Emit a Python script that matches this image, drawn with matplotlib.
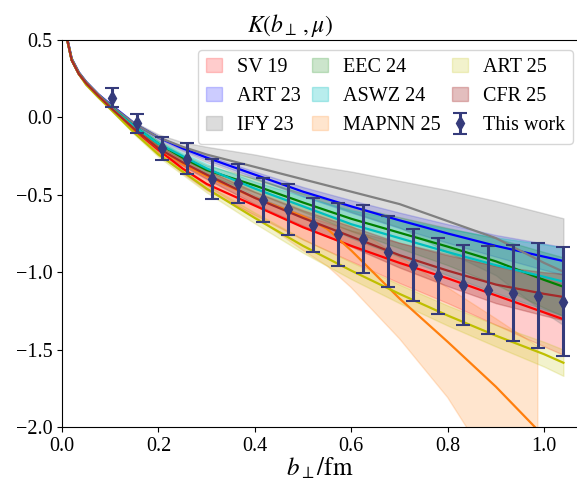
import matplotlib
matplotlib.use("Agg")
import matplotlib.pyplot as plt
import numpy as np

plt.rcParams['font.family'] = 'serif'
plt.rcParams['font.serif'] = ['Liberation Serif', 'DejaVu Serif']
plt.rcParams['mathtext.fontset'] = 'stix'

# b_perp grid (fm) on which the model curves were read
b_grid = [0.008, 0.02, 0.035, 0.05, 0.075, 0.1, 0.15, 0.2, 0.25, 0.3,
          0.4, 0.5, 0.6, 0.7, 0.8, 0.9, 1.0, 1.04]

sv19 = [0.54, 0.37, 0.28, 0.22, 0.14, 0.065, -0.08, -0.21, -0.33, -0.43,
        -0.57, -0.71, -0.83, -0.94, -1.04, -1.15, -1.26, -1.304]
sv19_err = [0, 0, 0.005, 0.005, 0.01, 0.01, 0.015, 0.02, 0.03, 0.04,
            0.06, 0.08, 0.10, 0.13, 0.16, 0.19, 0.22, 0.23]

art23 = [0.55, 0.38, 0.29, 0.23, 0.15, 0.085, -0.04, -0.13, -0.20, -0.26,
         -0.37, -0.48, -0.575, -0.665, -0.75, -0.83, -0.90, -0.928]
art23_err = [0, 0, 0, 0, 0.003, 0.005, 0.008, 0.01, 0.012, 0.015,
             0.02, 0.03, 0.04, 0.05, 0.06, 0.07, 0.085, 0.09]

ify23 = [0.55, 0.38, 0.29, 0.23, 0.15, 0.08, -0.04, -0.13, -0.19, -0.24,
         -0.32, -0.40, -0.48, -0.56, -0.67, -0.78, -0.94, -0.997]
ify23_err = [0, 0, 0, 0, 0.003, 0.005, 0.01, 0.02, 0.03, 0.05,
             0.08, 0.10, 0.13, 0.15, 0.20, 0.24, 0.32, 0.345]

eec24 = [0.54, 0.37, 0.28, 0.22, 0.14, 0.07, -0.06, -0.17, -0.26, -0.34,
         -0.44, -0.55, -0.655, -0.745, -0.835, -0.93, -1.05, -1.094]
eec24_err = [0, 0, 0, 0, 0.005, 0.008, 0.012, 0.017, 0.022, 0.03,
             0.045, 0.06, 0.08, 0.10, 0.12, 0.15, 0.18, 0.19]

aswz24 = [0.54, 0.37, 0.28, 0.22, 0.14, 0.07, -0.06, -0.17, -0.25, -0.33,
          -0.46, -0.575, -0.69, -0.78, -0.87, -0.955, -1.03, -1.061]
aswz24_err = [0, 0, 0, 0, 0.005, 0.008, 0.012, 0.017, 0.022, 0.03,
              0.045, 0.065, 0.09, 0.12, 0.15, 0.18, 0.21, 0.22]

art25 = [0.54, 0.37, 0.28, 0.21, 0.13, 0.055, -0.10, -0.24, -0.35, -0.46,
         -0.65, -0.83, -0.99, -1.14, -1.28, -1.41, -1.53, -1.585]
art25_err = [0, 0, 0, 0, 0.004, 0.006, 0.01, 0.015, 0.02, 0.025,
             0.035, 0.045, 0.055, 0.06, 0.065, 0.07, 0.08, 0.085]

cfr25 = [0.54, 0.37, 0.28, 0.22, 0.14, 0.065, -0.075, -0.20, -0.29, -0.37,
         -0.52, -0.65, -0.77, -0.89, -0.99, -1.08, -1.14, -1.16]
cfr25_err = [0, 0, 0, 0, 0.005, 0.008, 0.012, 0.017, 0.022, 0.028,
             0.04, 0.05, 0.065, 0.08, 0.10, 0.12, 0.14, 0.15]

# MAPNN 25 stops earlier and has an asymmetric band
b_mapnn = [0.008, 0.02, 0.035, 0.05, 0.075, 0.1, 0.15, 0.2, 0.25, 0.3,
           0.4, 0.5, 0.55, 0.6, 0.7, 0.8, 0.9, 0.987]
mapnn25 = [0.54, 0.37, 0.28, 0.22, 0.14, 0.065, -0.075, -0.20, -0.30, -0.38,
           -0.52, -0.64, -0.72, -0.86, -1.17, -1.45, -1.74, -2.02]
mapnn25_hi = [0.55, 0.38, 0.29, 0.23, 0.15, 0.075, -0.06, -0.18, -0.27, -0.34,
              -0.46, -0.57, -0.63, -0.70, -0.90, -1.10, -1.30, -1.48]
mapnn25_lo = [0.53, 0.36, 0.27, 0.21, 0.13, 0.055, -0.09, -0.23, -0.34, -0.44,
              -0.64, -0.86, -0.96, -1.10, -1.43, -1.81, -2.30, -2.70]

# lattice results
b_lat = [0.104, 0.156, 0.208, 0.260, 0.312, 0.364, 0.416, 0.468, 0.520, 0.572,
         0.624, 0.676, 0.728, 0.780, 0.832, 0.884, 0.936, 0.988, 1.040]
k_lat = [0.127, -0.038, -0.200, -0.267, -0.400, -0.426, -0.534, -0.594, -0.695,
         -0.755, -0.788, -0.867, -0.952, -1.022, -1.083, -1.115, -1.132, -1.152, -1.190]
k_lat_err = [0.06, 0.06, 0.075, 0.10, 0.13, 0.125, 0.145, 0.165, 0.175, 0.205,
             0.22, 0.23, 0.233, 0.245, 0.26, 0.285, 0.31, 0.34, 0.35]

models = [
    ("SV 19", sv19, sv19_err, "red", 0.2),
    ("ART 23", art23, art23_err, "blue", 0.2),
    ("IFY 23", ify23, ify23_err, "gray", 0.27),
    ("EEC 24", eec24, eec24_err, "green", 0.2),
    ("ASWZ 24", aswz24, aswz24_err, "c", 0.28),
]
models_after = [
    ("ART 25", art25, art25_err, "y", 0.2),
    ("CFR 25", cfr25, cfr25_err, "brown", 0.3),
]

fig = plt.figure(figsize=(5.77, 4.84), dpi=100)
ax = fig.add_axes([0.1075, 0.1178, 0.894, 0.7996])

b = np.array(b_grid)
for name, k, err, col, a in models:
    k, err = np.array(k), np.array(err)
    ax.fill_between(b, k - err, k + err, color=col, alpha=a, label=name)
    ax.plot(b, k, color=col, lw=1.6)

ax.fill_between(b_mapnn, mapnn25_lo, mapnn25_hi, color="tab:orange", alpha=0.2, label="MAPNN 25")
ax.plot(b_mapnn, mapnn25, color="tab:orange", lw=1.6)

for name, k, err, col, a in models_after:
    k, err = np.array(k), np.array(err)
    ax.fill_between(b, k - err, k + err, color=col, alpha=a, label=name)
    ax.plot(b, k, color=col, lw=1.6)

ax.errorbar(b_lat, k_lat, yerr=k_lat_err, fmt='d', color='#353b7b', ms=7,
            elinewidth=2.2, capsize=5, capthick=1.5, label="This work", zorder=5)

ax.set_xlim(0, 1.07)
ax.set_ylim(-2.0, 0.5)
ax.set_xticks([0.0, 0.2, 0.4, 0.6, 0.8, 1.0])
ax.set_yticks([0.5, 0.0, -0.5, -1.0, -1.5, -2.0])
ax.tick_params(labelsize=14.5)
ax.spines['right'].set_visible(False)
ax.set_title(r'$K(b_\perp\,, \mu)$', fontsize=17, x=0.442)
ax.set_xlabel(r'$b_\perp/\mathrm{fm}$', fontsize=18, labelpad=0)

ax.legend(ncol=3, fontsize=14.5, loc='upper right',
          bbox_to_anchor=(573 / 577, 1 - 50 / 484), bbox_transform=fig.transFigure,
          borderaxespad=0, handlelength=0.8, handletextpad=0.75,
          columnspacing=0.55, labelspacing=0.5)

fig.savefig("out.png", dpi=100)
